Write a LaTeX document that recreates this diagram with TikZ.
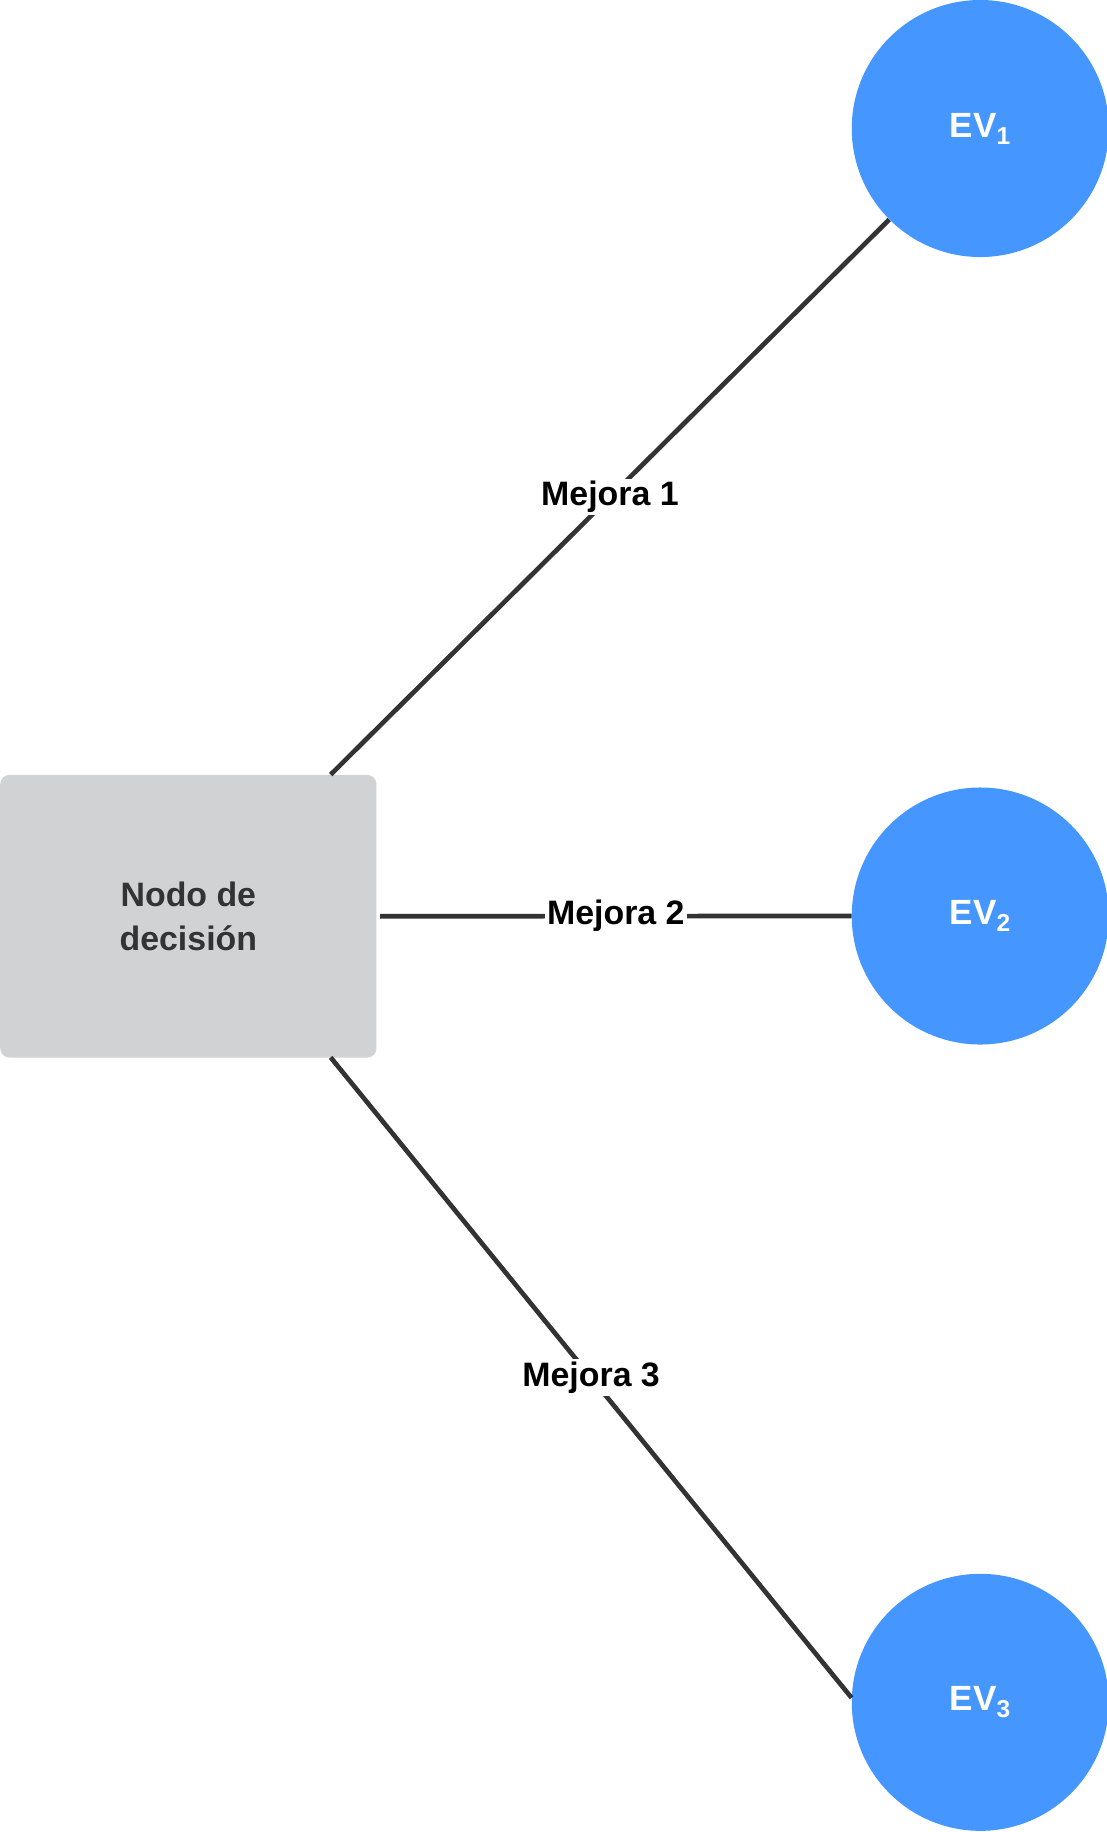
\documentclass[tikz,border=0pt]{standalone}
\usepackage{fontspec}
\setmainfont{Liberation Sans}
\begin{document}
\begin{tikzpicture}[x=1pt,y=-1pt,
  ev/.style={circle,fill=evblue,minimum size=220pt,inner sep=0pt,text=white,font=\fontsize{30}{34}\selectfont\bfseries},
  lbl/.style={fill=white,inner sep=2pt,font=\fontsize{29}{34}\selectfont\bfseries,text=black},
  con/.style={draw=lineg,line width=4pt}]
\definecolor{evblue}{HTML}{4596FF}
\definecolor{boxg}{HTML}{D1D2D4}
\definecolor{lineg}{HTML}{333333}
\useasboundingbox (0,0) rectangle (947,1568);
\node[fill=boxg,rounded corners=8pt,minimum width=322pt,minimum height=242pt,inner sep=0pt,anchor=north west,align=center,text=lineg,font=\fontsize{29}{38}\selectfont\bfseries] (box) at (0,663) {Nodo de\\decisión};
\node[ev] (ev1) at (839,110) {EV\textsubscript{1}};
\node[ev] (ev2) at (839,784) {EV\textsubscript{2}};
\node[ev] (ev3) at (839,1457) {EV\textsubscript{3}};
\coordinate (b1) at (283,663);
\coordinate (b3) at (283,905);
\draw[con] (b1) -- (ev1.225) node[lbl,pos=0.5] {Mejora 1};
\draw[con] (box.east) ++(3,0) -- (ev2.west) node[lbl,pos=0.5] {Mejora 2};
\draw[con] (b3) -- (ev3.178) node[lbl,pos=0.5] {Mejora 3};
\end{tikzpicture}
\end{document}
